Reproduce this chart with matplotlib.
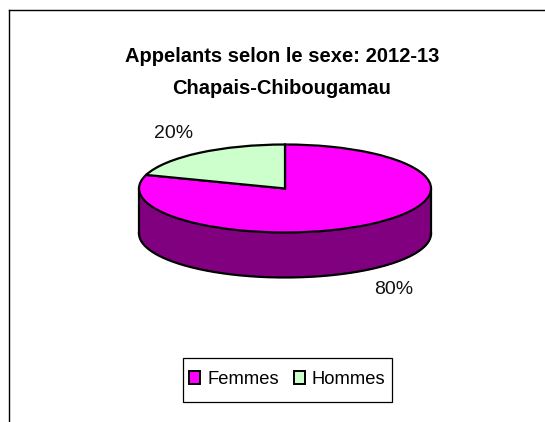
import numpy as np
import matplotlib
matplotlib.use("Agg")
import matplotlib.pyplot as plt
from matplotlib.lines import Line2D
from matplotlib.patches import Patch, Rectangle

categories = ["Femmes", "Hommes"]
values = [80, 20]
title_lines = ["Appelants selon le sexe: 2012-13", "Chapais-Chibougamau"]

W, H = 545, 422
CX, CY, A, B, DEPTH = 285, 188.5, 146, 44, 45
colors = ["#FF00FF", "#CCFFCC"]
side = "#800080"

plt.rcParams["font.family"] = ["Liberation Sans", "DejaVu Sans"]
fig = plt.figure(figsize=(W / 100, H / 100), dpi=100, facecolor="white")
ax = fig.add_axes([0, 0, 1, 1])

ax.pie(values, colors=colors, startangle=90, counterclock=False, radius=1,
       wedgeprops=dict(edgecolor="black", linewidth=1.6, zorder=3))
ax.set_aspect("auto")
ax.set_xlim(-CX / A, (W - CX) / A)
ax.set_ylim((CY - H) / B, CY / B)
ax.axis("off")

t = np.linspace(np.pi, 2 * np.pi, 200)
d = DEPTH / B
ax.fill_between(np.cos(t), np.sin(t), np.sin(t) - d, color=side, zorder=2, linewidth=0)
ax.plot(np.cos(t), np.sin(t) - d, color="black", lw=1.6, zorder=2.5)
ax.plot([-1, -1], [0, -d], color="black", lw=1.6, zorder=2.5)
ax.plot([1, 1], [0, -d], color="black", lw=1.6, zorder=2.5)

total = sum(values)
ax.text((394 - CX) / A, (CY - 289) / B, f"{values[0] / total:.0%}", ha="center", va="center", fontsize=14, color="#111111")
ax.text((174 - CX) / A, (CY - 134) / B, f"{values[1] / total:.0%}", ha="center", va="center", fontsize=14, color="#111111")

fig.text(282 / W, 1 - 57 / H, title_lines[0], ha="center", va="center", fontsize=14.5, fontweight="bold", color="black")
fig.text(282 / W, 1 - 88.5 / H, title_lines[1], ha="center", va="center", fontsize=14.5, fontweight="bold", color="black")

fig.add_artist(Line2D([9 / W, 9 / W], [0, 1 - 10 / H], color="black", lw=1.0))
fig.add_artist(Line2D([9 / W, 1], [1 - 10 / H, 1 - 10 / H], color="black", lw=1.0))

fig.add_artist(Rectangle((183 / W, 1 - 402 / H), 209 / W, 44 / H, transform=fig.transFigure,
                         facecolor="white", edgecolor="black", linewidth=0.9))
handles = [Patch(facecolor=c, edgecolor="black", linewidth=1.4) for c in colors]
leg = fig.legend(handles, categories, loc="center", bbox_to_anchor=(287.5 / W, 1 - 379.5 / H),
                 ncol=2, fontsize=13.2, frameon=False,
                 handlelength=0.6, handleheight=0.76, handletextpad=0.38,
                 columnspacing=0.82, borderpad=0.2, borderaxespad=0)
leg.set_zorder(5)

fig.savefig("out.png", dpi=100)
